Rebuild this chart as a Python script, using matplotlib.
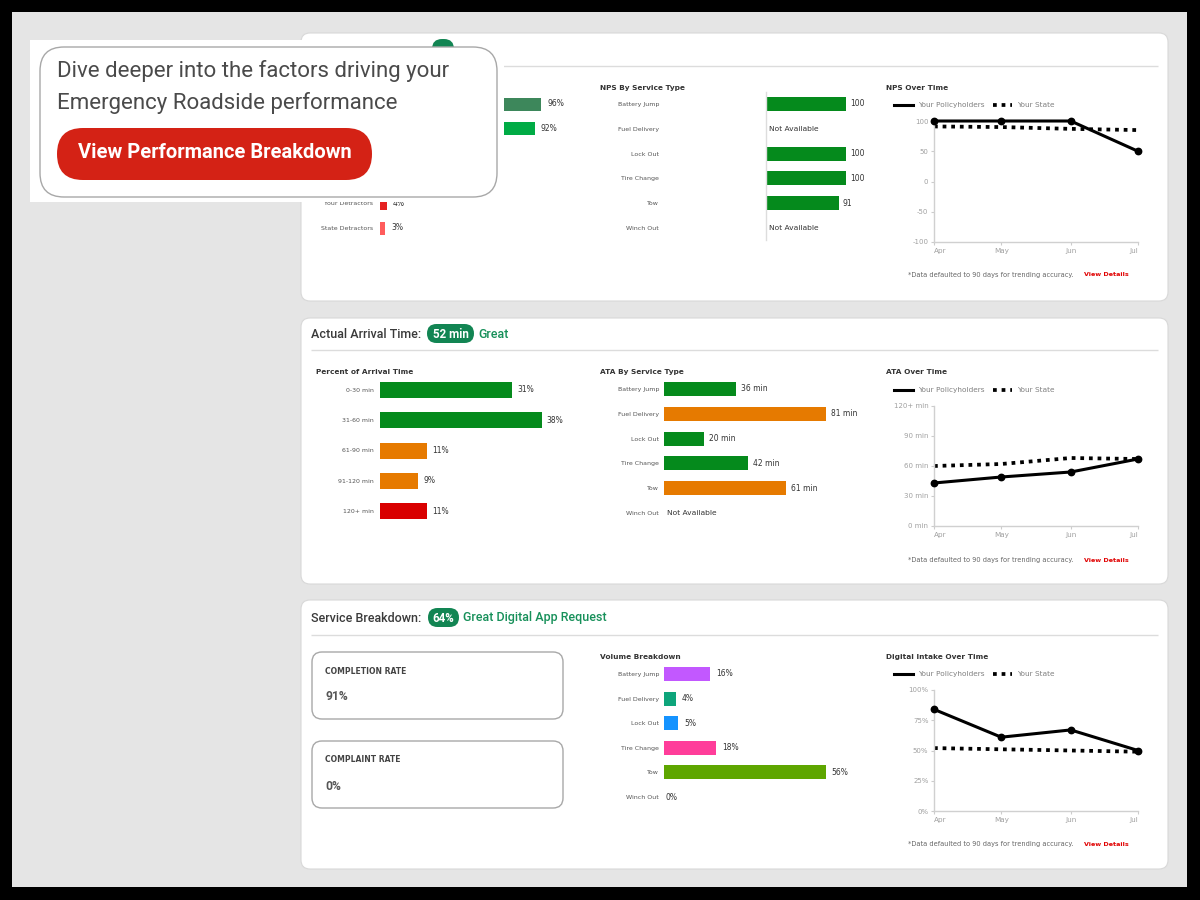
import numpy as np
import pandas as pd
import matplotlib
matplotlib.use('Agg')
import matplotlib.pyplot as plt
from matplotlib.patches import FancyBboxPatch, Rectangle
from matplotlib.lines import Line2D

plt.rcParams['font.family'] = ['DejaVu Sans']

# ---- data ----
months = ['Apr', 'May', 'Jun', 'Jul']
month_dates = pd.to_datetime(['2023-04-01', '2023-05-01', '2023-06-01', '2023-07-01'])

nps_cats = ['Your Promoters', 'State Promoters', 'Your Passives', 'State Passives',
            'Your Detractors', 'State Detractors']
nps_vals = [96, 92, 0, 5, 4, 3]

svc_cats = ['Battery Jump', 'Fuel Delivery', 'Lock Out', 'Tire Change', 'Tow', 'Winch Out']
nps_svc = [100, None, 100, 100, 91, None]

nps_pol = [100, 100, 100, 50]
nps_state = [91, 90, 87, 85]

arr_cats = ['0-30 min', '31-60 min', '61-90 min', '91-120 min', '120+ min']
arr_vals = [31, 38, 11, 9, 11]

ata_svc = [36, 81, 20, 42, 61, None]
ata_pol = [43, 49, 54, 67]
ata_state = [60, 62, 68, 67]

vol_vals = [16, 4, 5, 18, 56, 0]
dig_pol = [84, 61, 67, 50]
dig_state = [52, 51, 50, 49]

completion_rate = '91%'
complaint_rate = '0%'

# ---- colours ----
GREEN = '#058a1c'
ORANGE = '#e67a00'
RED = '#d90000'
BADGE = '#128553'
TXT = '#3a3a3a'

W, H = 1200, 900
fig = plt.figure(figsize=(12, 9), dpi=100)
fig.patch.set_facecolor('black')

bg = fig.add_axes([0, 0, 1, 1])
bg.set_xlim(0, W)
bg.set_ylim(H, 0)
bg.axis('off')


def px_axes(x0, y0, x1, y1, z=1):
    return fig.add_axes([x0 / W, 1 - y1 / H, (x1 - x0) / W, (y1 - y0) / H], zorder=z)


def rbox(ax, x0, y0, x1, y1, r, fc, ec='none', lw=0, z=1):
    p = FancyBboxPatch((x0, y0), x1 - x0, y1 - y0,
                       boxstyle='round,pad=0,rounding_size=%s' % r,
                       fc=fc, ec=ec, lw=lw, zorder=z)
    ax.add_patch(p)


bg.add_patch(Rectangle((12, 12), 1175, 875, fc='#e5e5e5', ec='none'))

for (y0, y1) in [(33, 301), (318, 584), (600, 869)]:
    rbox(bg, 301, y0, 1168, y1, 9, 'white', '#d8d8d8', 0.8)

for y in [66, 350, 635]:
    bg.hlines(y, 311, 1158, color='#dcdcdc', lw=1)

# headers
rbox(bg, 432, 39, 454, 59, 10, BADGE, z=2)

HFS = 9.0
HW = 'medium'
bg.text(311, 334, 'Actual Arrival Time:', family='Roboto', fontsize=HFS,
        fontweight=HW, color=TXT, va='center')
rbox(bg, 427, 324, 474, 343, 9.5, BADGE, z=2)
bg.text(450.5, 334, '52 min', family='Roboto', fontsize=8.4, fontweight='bold',
        color='white', va='center', ha='center', zorder=3)
bg.text(478, 334, 'Great', family='Roboto', fontsize=HFS, fontweight=HW,
        color='#17905a', va='center')

bg.text(311, 618, 'Service Breakdown:', family='Roboto', fontsize=HFS,
        fontweight=HW, color=TXT, va='center')
rbox(bg, 428, 608, 459, 627, 9.5, BADGE, z=2)
bg.text(443.5, 618, '64%', family='Roboto', fontsize=8.4, fontweight='bold',
        color='white', va='center', ha='center', zorder=3)
bg.text(463, 618, 'Great Digital App Request', family='Roboto', fontsize=HFS,
        fontweight=HW, color='#17905a', va='center')

# section titles
for (x, y, s) in [(600, 88, 'NPS By Service Type'), (886, 88, 'NPS Over Time'),
                  (316, 372, 'Percent of Arrival Time'), (600, 372, 'ATA By Service Type'),
                  (886, 372, 'ATA Over Time'), (600, 657, 'Volume Breakdown'),
                  (886, 657, 'Digital Intake Over Time')]:
    bg.text(x, y, s, fontsize=5.3, fontweight='bold', color='#333333', va='center')

# completion / complaint boxes
for (y0, y1, lab, val) in [(652, 719, 'COMPLETION RATE', completion_rate),
                           (741, 808, 'COMPLAINT RATE', complaint_rate)]:
    rbox(bg, 312, y0, 563, y1, 10, 'white', '#a8a8a8', 1.0)
    bg.text(325, y0 + 19, lab, fontsize=5.5, fontweight='bold', color='#444444', va='center')
    bg.text(325, y0 + 45, val, family='Roboto', fontsize=8.7, fontweight='bold',
            color='#555555', va='center')

# footnotes
for y in [275, 560, 844]:
    bg.text(908, y, '*Data defaulted to 90 days for trending accuracy.', fontsize=4.8,
            color='#666666', va='center')
    bg.text(1084, y, 'View Details', fontsize=4.6, fontweight='bold', color='#e00000',
            va='center')


def hbar(x0, y_first, y_last, cats, vals, colors, scale, width_px, cat_pad_px,
         bar_px, fmt, na_text='Not Available', spine=False, val_pad=4):
    n = len(cats)
    sp = (y_last - y_first) / (n - 1)
    ax = px_axes(x0, y_first - sp / 2, x0 + width_px, y_last + sp / 2)
    ax.set_xlim(0, width_px / scale)
    ax.set_ylim(n - 0.5, -0.5)
    ax.patch.set_alpha(0)
    ypos = np.arange(n)
    w = [0 if v is None else v for v in vals]
    bars = ax.barh(ypos, w, height=bar_px / sp, color=colors, edgecolor='none')
    labs = ['' if (v is None or v == 0) else fmt % v for v in vals]
    ax.bar_label(bars, labels=labs, padding=val_pad * 0.72, fontsize=5.5, color='#333333')
    for i, v in enumerate(vals):
        if v is None:
            ax.annotate(na_text, (0, i), xytext=(2, 0), textcoords='offset points',
                        fontsize=5.4, color='#333333', va='center')
        elif v == 0:
            ax.annotate(fmt % v, (0, i), xytext=(1, 0), textcoords='offset points',
                        fontsize=5.5, color='#333333', va='center')
    ax.set_yticks(ypos)
    ax.set_yticklabels(cats, fontsize=4.5, color='#555555')
    ax.tick_params(axis='y', length=0, pad=cat_pad_px * 0.72)
    ax.set_xticks([])
    for s in ['top', 'right', 'bottom', 'left']:
        ax.spines[s].set_visible(False)
    if spine:
        ax.spines['left'].set_visible(True)
        ax.spines['left'].set_color('#dddddd')
        ax.spines['left'].set_linewidth(1)
    return ax


# panel 1 left (mostly under popup)
hbar(380, 104, 228, nps_cats, nps_vals,
     ['#3d875b', '#00ab45', '#8c8c8c', '#bdbdbd', '#e52222', '#ff5c5c'],
     1.68, 200, 7, 13, '%d%%', val_pad=6)
# panel 1 middle
hbar(766, 104, 228, svc_cats, nps_svc, [GREEN] * 6, 0.8, 110, 107, 14, '%d',
     spine=True, val_pad=4)
# panel 2 left
hbar(380, 390, 511, arr_cats, arr_vals, [GREEN, GREEN, ORANGE, ORANGE, RED],
     4.26, 200, 6, 16, '%d%%', val_pad=5)
# panel 2 middle
hbar(664, 389, 513, svc_cats, ata_svc,
     [GREEN, ORANGE, GREEN, GREEN, ORANGE, GREEN], 2.0, 200, 5, 14, '%d min', val_pad=5)
# panel 3 middle
hbar(664, 674, 797, svc_cats, vol_vals,
     ['#c258ff', '#0ea57b', '#1593ff', '#ff3d9a', '#5ea600', '#999999'],
     2.89, 200, 5, 14, '%d%%', val_pad=6)

DOT = (0, (1.0, 1.3))


def line_chart(y0, y1, pol, state, ylim, yticks, ylabels, leg_y):
    ax = px_axes(934, y0, 1138, y1)
    ax.patch.set_alpha(0)
    ax.plot(month_dates, state, color='black', lw=2.7, ls=DOT,
            clip_on=False, zorder=2)
    ax.plot(month_dates, pol, color='black', lw=2.2, marker='o', ms=4.6,
            clip_on=False, zorder=3)
    ax.set_xlim(month_dates[0], month_dates[-1])
    ax.set_ylim(*ylim)
    ax.set_yticks(yticks)
    ax.set_yticklabels(ylabels, fontsize=5.0, color='#a0a0a0')
    ax.set_xticks(month_dates)
    ax.set_xticklabels(months, fontsize=5.2, color='#a0a0a0')
    tl = ax.get_xticklabels()
    tl[0].set_ha('left')
    tl[-1].set_ha('right')
    ax.tick_params(axis='both', length=2.5, width=0.8, color='#cccccc', pad=1.5)
    for s in ['top', 'right']:
        ax.spines[s].set_visible(False)
    for s in ['left', 'bottom']:
        ax.spines[s].set_color('#d0d0d0')
        ax.spines[s].set_linewidth(1)
    handles = [Line2D([], [], color='black', lw=2.2),
               Line2D([], [], color='black', lw=2.7, ls=DOT)]
    ax.legend(handles, ['Your Policyholders', 'Your State'], loc='center left',
              bbox_to_anchor=(894, leg_y), bbox_transform=bg.transData, ncol=2,
              frameon=False, fontsize=5.3, labelcolor='#808080', handlelength=2.6,
              handletextpad=0.7, columnspacing=1.1, borderpad=0, borderaxespad=0)
    return ax


line_chart(121, 242, nps_pol, nps_state, (-100, 100), [-100, -50, 0, 50, 100],
           ['-100', '-50', '0', '50', '100'], 105)
line_chart(406, 526, ata_pol, ata_state, (0, 120), [0, 30, 60, 90, 120],
           ['0 min', '30 min', '60 min', '90 min', '120+ min'], 390)
line_chart(690, 811, dig_pol, dig_state, (0, 100), [0, 25, 50, 75, 100],
           ['0%', '25%', '50%', '75%', '100%'], 674)

# ---- popup overlay ----
top = fig.add_axes([0, 0, 1, 1], zorder=10)
top.set_xlim(0, W)
top.set_ylim(H, 0)
top.axis('off')
top.patch.set_alpha(0)
top.add_patch(Rectangle((30, 40), 272, 162, fc='white', ec='none'))
top.add_patch(Rectangle((302, 47), 202, 155, fc='white', ec='none'))
rbox(top, 40, 47, 497, 197, 24, 'white', '#a8a8a8', 1.0, z=2)
top.text(57, 71, 'Dive deeper into the factors driving your', family='Roboto',
         fontsize=16, color='#4a4a4a', va='center', zorder=3)
top.text(57, 103, 'Emergency Roadside performance', family='Roboto',
         fontsize=16, color='#4a4a4a', va='center', zorder=3)
rbox(top, 57, 128, 372, 180, 26, '#d42215', z=3)
top.text(214.5, 153, 'View Performance Breakdown', family='Roboto', fontsize=14.5,
         fontweight='bold', color='white', va='center', ha='center', zorder=4)

fig.savefig('out.png', dpi=100, facecolor=fig.get_facecolor())
